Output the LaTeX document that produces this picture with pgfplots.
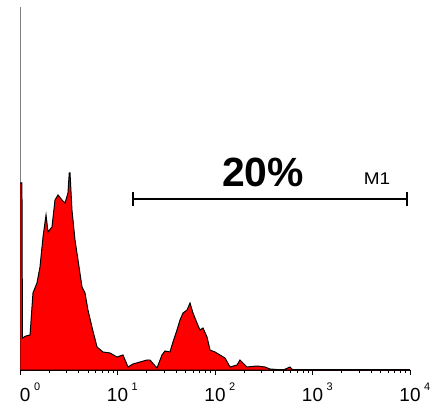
\documentclass[border=0pt]{standalone}
\usepackage{pgfplots}
\pgfplotsset{compat=1.18}
\usepackage{fontspec}
\setmainfont{Liberation Sans}
\newcommand{\dec}[1]{10\hspace{3.5bp}\raisebox{11bp}{\fontsize{11}{11}\selectfont #1}}
\begin{document}
\begin{tikzpicture}
\useasboundingbox (0,0) rectangle (439bp,402bp);
\clip (20bp,0) rectangle (439bp,402bp);
\begin{axis}[
    at={(20bp,32bp)}, anchor=south west,
    scale only axis,
    width=390bp, height=363bp,
    xmin=0, xmax=4, ymin=0, ymax=363,
    axis x line*=bottom, axis y line*=left,
    x axis line style={black, line width=1.2pt},
    y axis line style={gray, line width=0.6pt},
    ytick=\empty,
    xtick={0,1,2,3,4},
    xticklabels={\dec{0},\dec{1},\dec{2},\dec{3},\dec{4}},
    minor xtick={0.301,0.477,0.602,0.699,0.778,0.845,0.903,0.954,
                 1.301,1.477,1.602,1.699,1.778,1.845,1.903,1.954,
                 2.301,2.477,2.602,2.699,2.778,2.845,2.903,2.954,
                 3.301,3.477,3.602,3.699,3.778,3.845,3.903,3.954},
    tick align=outside,
    major tick length=5bp, minor tick length=3bp,
    every tick/.style={black, line width=0.8pt},
    xticklabel style={font=\fontsize{19}{19}\selectfont, anchor=base,
        yshift=-26bp, xshift=4.8bp},
    clip=false,
]
\addplot[fill=red, draw=black, line width=1pt] coordinates {
(0,0) (0,187) (0.02,187) (0.025,32) (0.06,34) (0.103,35) (0.133,77) (0.174,87)
(0.205,103) (0.236,133) (0.267,155) (0.287,138) (0.328,143) (0.359,170) (0.390,175)
(0.431,170) (0.462,167) (0.492,177) (0.505,197) (0.513,197) (0.533,160) (0.564,130)
(0.595,110) (0.636,83) (0.667,77) (0.697,60) (0.738,43) (0.790,23) (0.851,18)
(0.923,17) (0.995,13) (1.056,15) (1.108,3) (1.159,6) (1.231,8) (1.303,10) (1.333,10)
(1.405,2) (1.456,15) (1.487,19) (1.538,18) (1.569,28) (1.610,40) (1.641,50) (1.672,57)
(1.713,60) (1.744,67) (1.774,57) (1.815,47) (1.846,40) (1.877,42) (1.918,33) (1.949,20)
(2.000,18) (2.051,15) (2.103,12) (2.154,3) (2.226,5) (2.256,10) (2.328,3) (2.431,4)
(2.513,3) (2.564,1) (2.70,0) (2.769,3) (2.80,0) (4,0)
} \closedcycle;
\draw[black, line width=1.2pt] (axis cs:1.159,171) -- (axis cs:3.969,171);
\draw[black, line width=1.2pt] (axis cs:1.159,164) -- (axis cs:1.159,178);
\draw[black, line width=1.2pt] (axis cs:3.969,164) -- (axis cs:3.969,178);
\node[anchor=base, inner sep=0pt] at (axis cs:2.492,183)
    {\fontsize{41}{41}\selectfont\bfseries 20\%};
\node[anchor=base, inner sep=0pt, xscale=1.12] at (axis cs:3.662,185)
    {\fontsize{17}{17}\selectfont M1};
\end{axis}
\end{tikzpicture}
\end{document}
